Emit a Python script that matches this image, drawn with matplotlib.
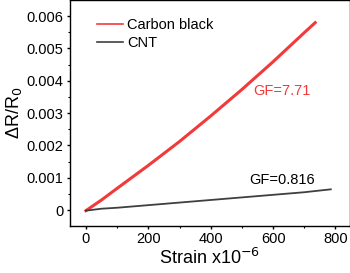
import matplotlib
matplotlib.use("Agg")
import matplotlib.pyplot as plt
from matplotlib.ticker import MultipleLocator, FuncFormatter

plt.rcParams['font.family'] = ['Liberation Sans', 'DejaVu Sans']

# values
strain_cb = [0, 50, 100, 200, 300, 400, 500, 600, 700, 735]
dr_cb = [-0.00002, 0.00031, 0.00067, 0.00138, 0.00212, 0.00291, 0.00373, 0.00459, 0.00549, 0.00580]
strain_cnt = [0, 50, 100, 200, 300, 400, 500, 600, 700, 785]
dr_cnt = [-0.00002, 0.00004, 0.00007, 0.00015, 0.00023, 0.00031, 0.00039, 0.00047, 0.00055, 0.00064]
gf_labels = ["GF=7.71", "GF=0.816"]

fig = plt.figure(figsize=(3.5, 2.73), dpi=100)
ax = fig.add_axes([0.1986, 0.1722, 0.80, 0.826])

ax.plot(strain_cb, dr_cb, color="#f23a3a", lw=2.2, label="Carbon black")
ax.plot(strain_cnt, dr_cnt, color="#3f3f3f", lw=1.3, label="CNT")

ax.set_xlim(-52.6, 845)
ax.set_ylim(-0.000495, 0.006486)
ax.xaxis.set_major_locator(MultipleLocator(200))
ax.xaxis.set_minor_locator(MultipleLocator(100))
ax.yaxis.set_major_locator(MultipleLocator(0.001))
ax.yaxis.set_minor_locator(MultipleLocator(0.0005))
ax.yaxis.set_major_formatter(FuncFormatter(lambda v, p: "0" if abs(v) < 1e-9 else "%.3f" % v))

for s in ax.spines.values():
    s.set_linewidth(1.0)
ax.tick_params(which="major", direction="out", length=2.5, width=1.0, labelsize=10.5, pad=2)
ax.tick_params(which="minor", direction="out", length=1.3, width=0.8)

ax.set_xlabel("Strain x10$^{-6}$", fontsize=13, labelpad=1)
ax.set_ylabel("ΔR/R$_0$", fontsize=13, labelpad=2)

ax.text(535, 0.00369, gf_labels[0], color="#f23a3a", fontsize=10.5, va="center")
ax.text(523, 0.00093, gf_labels[1], color="black", fontsize=10.5, va="center")

leg = ax.legend(loc="upper left", bbox_to_anchor=(0.063, 0.967), frameon=False,
                fontsize=10.5, handlelength=1.75, handletextpad=0.3,
                borderpad=0.2, labelspacing=0.25)
for h in leg.get_lines():
    h.set_linewidth(1.2)

fig.savefig("out.png", dpi=100)
